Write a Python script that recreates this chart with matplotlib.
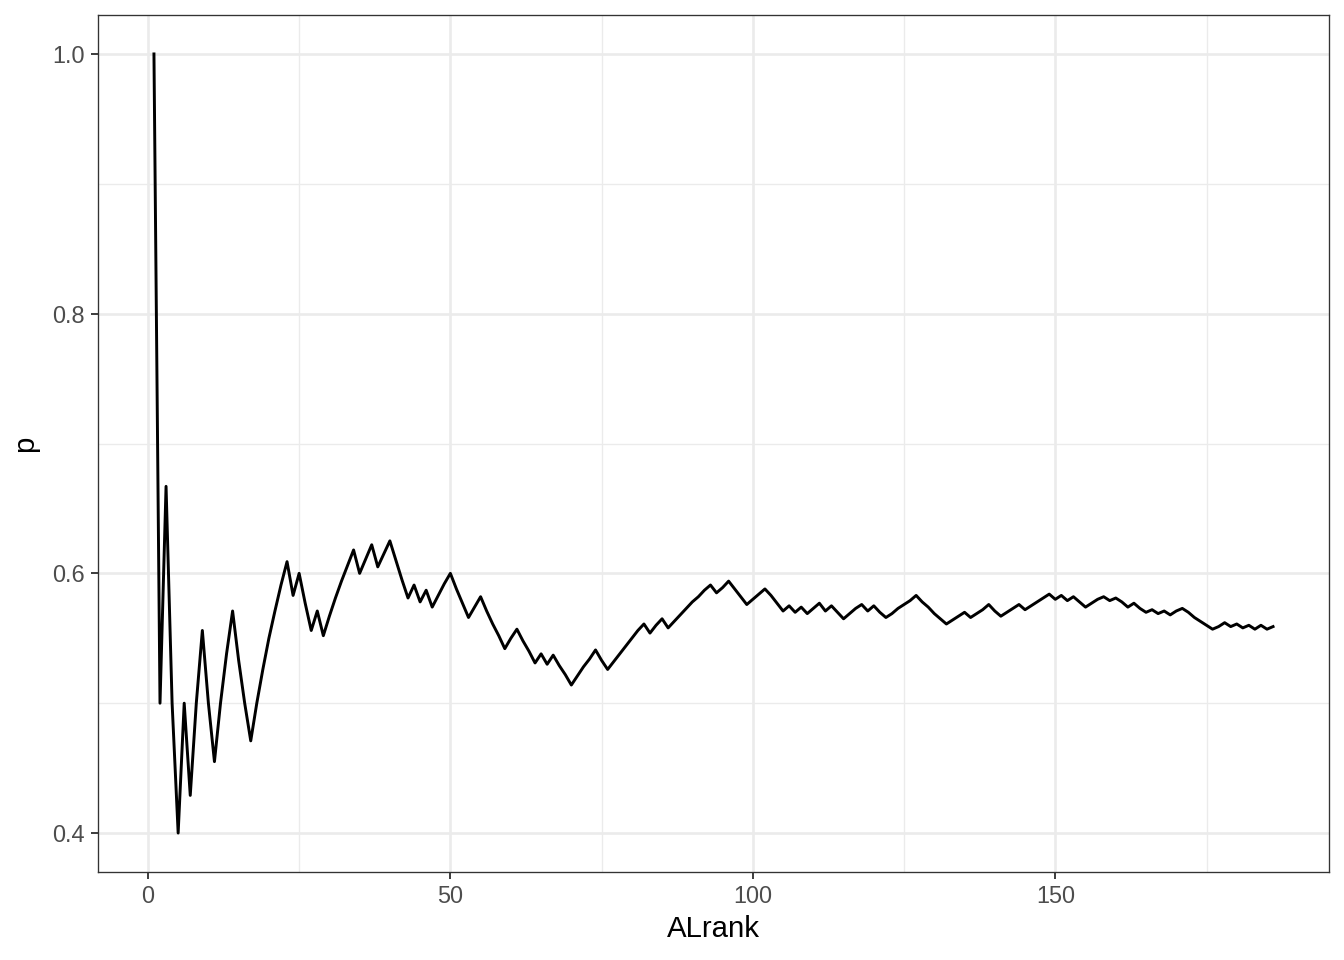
import matplotlib
matplotlib.use("Agg")
import matplotlib.pyplot as plt
from matplotlib.ticker import MultipleLocator

plt.rcParams['font.family'] = ['Liberation Sans', 'DejaVu Sans']

# ALrank 1..186 and running proportion p
ALrank = list(range(1, 187))
p = [1.000, 0.500, 0.667, 0.500, 0.400, 0.500, 0.429, 0.500, 0.556, 0.500,
     0.455, 0.500, 0.538, 0.571, 0.533, 0.500, 0.471, 0.500, 0.526, 0.550,
     0.571, 0.591, 0.609, 0.583, 0.600, 0.577, 0.556, 0.571, 0.552, 0.567,
     0.581, 0.594, 0.606, 0.618, 0.600, 0.611, 0.622, 0.605, 0.615, 0.625,
     0.610, 0.595, 0.581, 0.591, 0.578, 0.587, 0.574, 0.583, 0.592, 0.600,
     0.588, 0.577, 0.566, 0.574, 0.582, 0.571, 0.561, 0.552, 0.542, 0.550,
     0.557, 0.548, 0.540, 0.531, 0.538, 0.530, 0.537, 0.529, 0.522, 0.514,
     0.521, 0.528, 0.534, 0.541, 0.533, 0.526, 0.532, 0.538, 0.544, 0.550,
     0.556, 0.561, 0.554, 0.560, 0.565, 0.558, 0.563, 0.568, 0.573, 0.578,
     0.582, 0.587, 0.591, 0.585, 0.589, 0.594, 0.588, 0.582, 0.576, 0.580,
     0.584, 0.588, 0.583, 0.577, 0.571, 0.575, 0.570, 0.574, 0.569, 0.573,
     0.577, 0.571, 0.575, 0.570, 0.565, 0.569, 0.573, 0.576, 0.571, 0.575,
     0.570, 0.566, 0.569, 0.573, 0.576, 0.579, 0.583, 0.578, 0.574, 0.569,
     0.565, 0.561, 0.564, 0.567, 0.570, 0.566, 0.569, 0.572, 0.576, 0.571,
     0.567, 0.570, 0.573, 0.576, 0.572, 0.575, 0.578, 0.581, 0.584, 0.580,
     0.583, 0.579, 0.582, 0.578, 0.574, 0.577, 0.580, 0.582, 0.579, 0.581,
     0.578, 0.574, 0.577, 0.573, 0.570, 0.572, 0.569, 0.571, 0.568, 0.571,
     0.573, 0.570, 0.566, 0.563, 0.560, 0.557, 0.559, 0.562, 0.559, 0.561,
     0.558, 0.560, 0.557, 0.560, 0.557, 0.559]

fig = plt.figure(figsize=(7, 5), dpi=192)
ax = fig.add_axes([98 / 1344, 1 - 872 / 960, (1329 - 98) / 1344, (872 - 15) / 960])

ax.plot(ALrank, p, color='black', linewidth=1.1, zorder=3)

ax.set_xlim(1 - 0.05 * 185, 186 + 0.05 * 185)
ax.set_ylim(0.4 - 0.03, 1.0 + 0.03)
ax.xaxis.set_major_locator(MultipleLocator(50))
ax.xaxis.set_minor_locator(MultipleLocator(25))
ax.yaxis.set_minor_locator(MultipleLocator(0.1))
ax.set_yticks([0.4, 0.6, 0.8, 1.0])
ax.set_yticklabels(['0.4', '0.6', '0.8', '1.0'])

# theme_bw look
ax.grid(which='major', color='#EBEBEB', linewidth=1.0, zorder=0)
ax.grid(which='minor', color='#EBEBEB', linewidth=0.5, zorder=0)
ax.set_axisbelow(True)
for s in ax.spines.values():
    s.set_color('#333333')
    s.set_linewidth(0.5)
ax.tick_params(which='major', length=2.75, width=0.7, color='#333333',
               labelsize=8.8, labelcolor='#4D4D4D', pad=2.2)
ax.tick_params(which='minor', length=0)

ax.set_xlabel('ALrank', fontsize=11, color='black', labelpad=2.5)
ax.set_ylabel('p', fontsize=11, color='black', labelpad=5)

fig.savefig('out.png', dpi=192)
